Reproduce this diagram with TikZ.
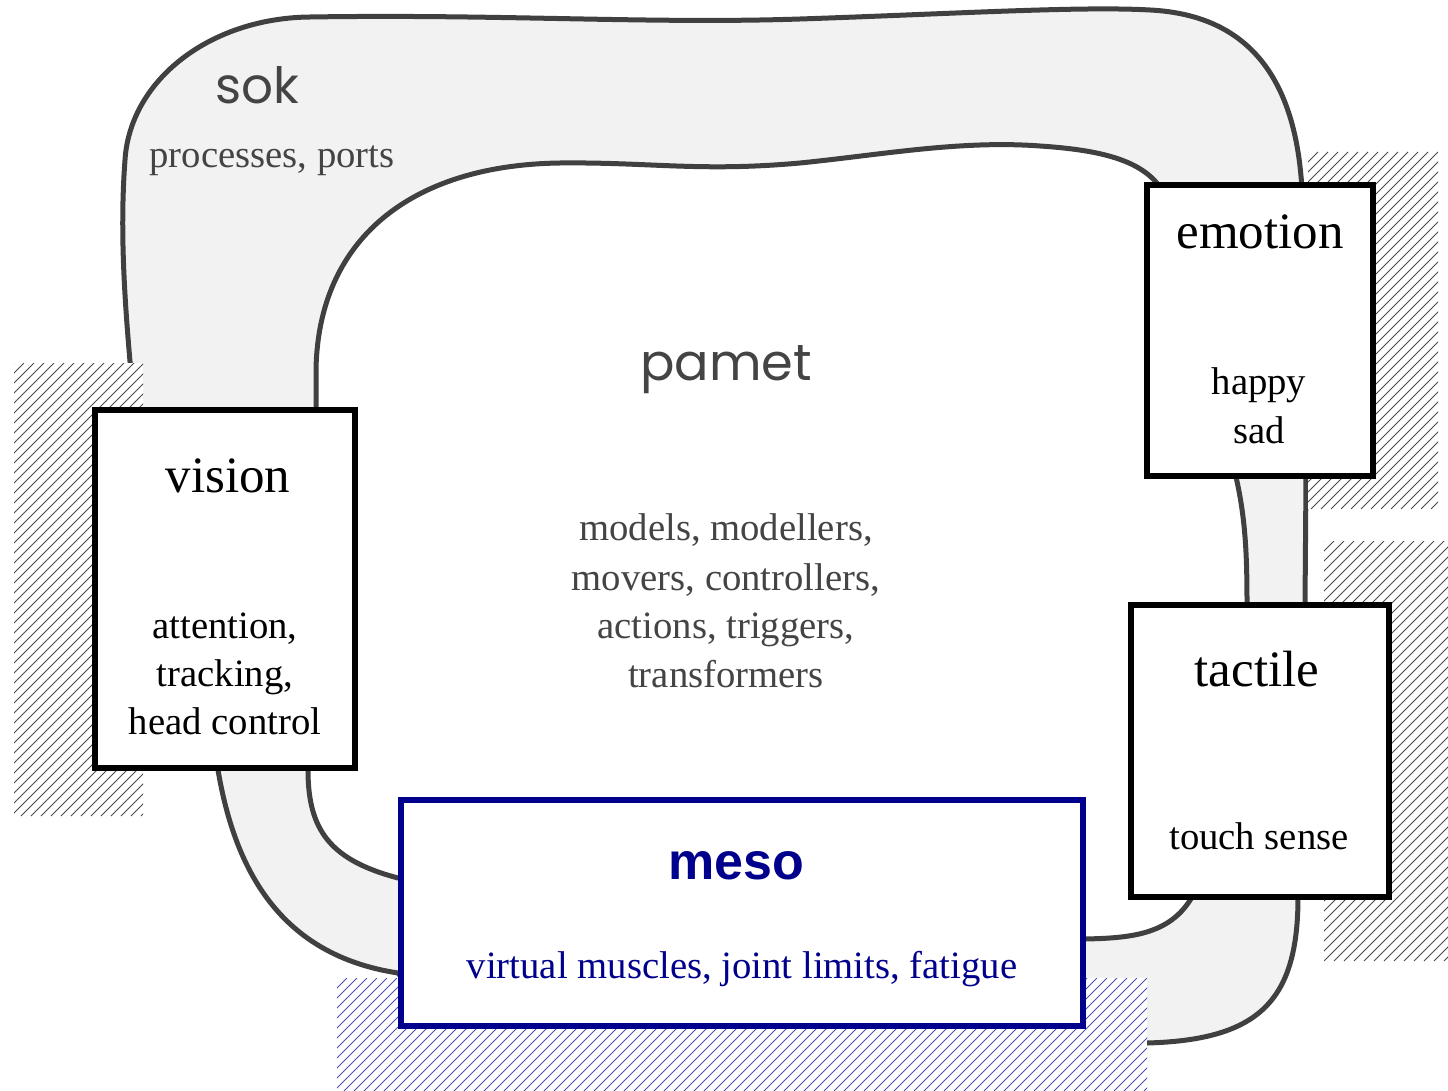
\documentclass[tikz,border=0pt]{standalone}
\usepackage{fontspec}
\setmainfont{Liberation Serif}
\newfontfamily\geofont{Poppins}
\newfontfamily\mesofont{Liberation Sans}

\definecolor{ringline}{HTML}{404040}
\definecolor{ringfill}{HTML}{F2F2F2}
\definecolor{softtext}{HTML}{444444}
\definecolor{mesoblue}{RGB}{0,0,140}
\definecolor{mesohatch}{RGB}{80,80,180}
\definecolor{hatchgray}{HTML}{4A4A4A}

% hatched rectangle: x1 y1 x2 y2 line-style
\newcommand\hatchrect[5]{%
  \begin{scope}
    \fill[white] (#1,#2) rectangle (#3,#4);
    \clip (#1,#2) rectangle (#3,#4);
    \pgfmathsetmacro\hh{#4-#2}
    \pgfmathsetmacro\xs{#1-\hh}
    \pgfmathsetmacro\xn{\xs+10}
    \foreach \x in {\xs,\xn,...,#3} \draw[#5] (\x,#4) -- ++(\hh,-\hh);
  \end{scope}}

\begin{document}
\begin{tikzpicture}[x=1pt,y=-1pt,
  ring/.style={draw=ringline, line width=5pt, line join=round},
  hatchline/.style={draw=hatchgray, line width=0.9pt},
  mesohatchline/.style={draw=mesohatch, line width=0.9pt},
  unitbox/.style={draw=black, line width=6pt, fill=white, inner sep=0pt},
  mesobox/.style={draw=mesoblue, line width=6pt, fill=white, inner sep=0pt},
  title/.style={font=\fontsize{51}{60}\selectfont, anchor=base, inner sep=0pt},
  body/.style={font=\fontsize{38.7}{48}\selectfont, anchor=base, inner sep=0pt},
  zone/.style={font=\geofont\fontsize{50}{60}\selectfont, text=softtext, anchor=base, inner sep=0pt},
  zonebody/.style={body, text=softtext},
]
\useasboundingbox (0,0) rectangle (1448,1091);

% sok band: outer outline (hidden stretches run under boxes and hatching)
\draw[ring, fill=ringfill]
  (134,405) .. controls (126,320) and (119,240) .. (125,160)
  .. controls (130,80) and (210,18) .. (310,17)
  .. controls (500,14) and (650,24) .. (800,19)
  .. controls (950,14) and (1080,6) .. (1150,10)
  .. controls (1250,15) and (1296,80) .. (1302,190)
  -- (1306,477) -- (1305,605) -- (1298,897)
  .. controls (1298,1000) and (1260,1040) .. (1147,1043)
  -- (1100,1050) -- (420,1000) -- (398,973)
  .. controls (280,955) and (235,870) .. (218,770)
  -- (140,450) -- cycle;

% pamet area: inner outline
\draw[ring, fill=white]
  (316,420) -- (316,370)
  .. controls (318,240) and (410,165) .. (560,163)
  .. controls (650,162) and (700,172) .. (800,163)
  .. controls (880,155) and (960,140) .. (1040,146)
  .. controls (1100,150) and (1145,160) .. (1163,192)
  -- (1236,477)
  .. controls (1246,520) and (1247,560) .. (1247,605)
  -- (1192,897)
  .. controls (1170,935) and (1130,938) .. (1085,939)
  -- (398,878)
  .. controls (330,860) and (308,830) .. (308,770)
  -- cycle;

% hatched supports
\hatchrect{14}{363}{143}{816}{hatchline}
\hatchrect{1308}{152}{1438}{509}{hatchline}
\hatchrect{1324}{541}{1448}{961}{hatchline}
\hatchrect{337}{978}{1147}{1091}{mesohatchline}

% boxes
\node[unitbox, minimum width=260, minimum height=358] (vision) at (225,589) {};
\node[unitbox, minimum width=226, minimum height=291] (emotion) at (1260,330.5) {};
\node[unitbox, minimum width=258, minimum height=292] (tactile) at (1260,751) {};
\node[mesobox, minimum width=682, minimum height=226] (meso) at (742,913) {};

% sok labels
\node[zone] (sokname) at (257,104) {sok};
\node[zonebody] (sokitems) at (272,168) {processes, ports};

% pamet labels
\node[zone, font=\geofont\fontsize{51}{60}\selectfont] (pametname) at (726,380) {pamet};
\node[zonebody] (pamet1) at (726,540) {models, modellers,};
\node[zonebody] (pamet2) at (726,590) {movers, controllers,};
\node[zonebody] (pamet3) at (726,638) {actions, triggers,};
\node[zonebody] (pamet4) at (726,687) {transformers};

% vision
\node[title] (visionname) at (228,492) {vision};
\node[body] (vision1) at (225,638) {attention,};
\node[body] (vision2) at (225,686) {tracking,};
\node[body] (vision3) at (225,734) {head control};

% emotion
\node[title] (emotionname) at (1260,249) {emotion};
\node[body] (emotion1) at (1259,394) {happy};
\node[body] (emotion2) at (1259,443) {sad};

% tactile
\node[title] (tactilename) at (1257,686) {tactile};
\node[body] (tactile1) at (1259,849) {touch sense};

% meso
\node[anchor=base, inner sep=0pt, text=mesoblue, font=\mesofont\bfseries\fontsize{52}{60}\selectfont] (mesoname) at (736,879) {meso};
\node[body, text=mesoblue] (meso1) at (742,978) {virtual muscles, joint limits, fatigue};
\end{tikzpicture}
\end{document}
